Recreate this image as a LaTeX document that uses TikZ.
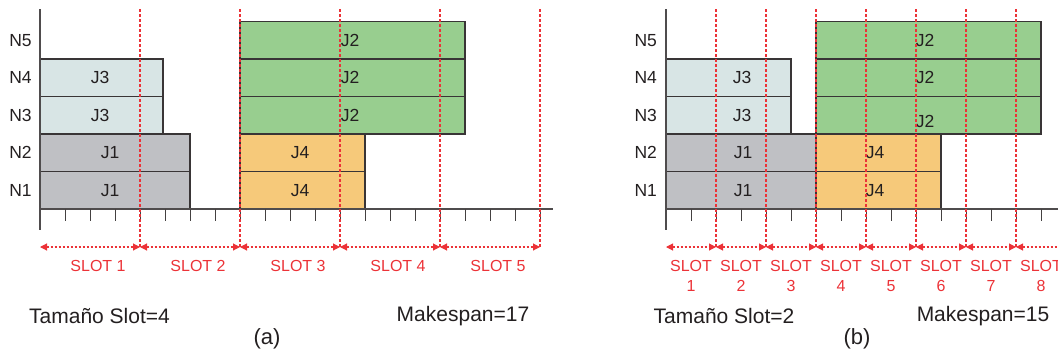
\documentclass[tikz,border=0pt]{standalone}
\usepackage{fontspec}
\setmainfont{Liberation Sans}
\usetikzlibrary{arrows.meta}

\definecolor{jgreen}{HTML}{98CE8F}
\definecolor{jorange}{HTML}{F6C97A}
\definecolor{jgray}{HTML}{BFC0C4}
\definecolor{jblue}{HTML}{D8E5E5}
\definecolor{slotred}{HTML}{EC3237}
\definecolor{ink}{HTML}{231F20}

\tikzset{
  jobbox/.style={draw=ink!90, line width=1.1pt},
  joblabel/.style={inner sep=0pt, text=ink, font=\fontsize{17.5}{17.5}\selectfont},
  rowlabel/.style={inner sep=0pt, text=ink, font=\fontsize{17.5}{17.5}\selectfont},
  axisline/.style={draw=ink!80, line width=1.2pt},
  tickline/.style={draw=ink!85, line width=1pt},
  slotline/.style={draw=slotred, line width=1.1pt, dash pattern=on 3pt off 2pt},
  slotarrow/.style={draw=slotred, line width=1.1pt, dash pattern=on 2pt off 2pt,
    {Triangle[length=7pt,width=7pt]}-{Triangle[length=7pt,width=7pt]}},
  slottext/.style={inner sep=0pt, text=slotred, font=\fontsize{16}{20}\selectfont, align=center},
  infotext/.style={inner sep=0pt, text=ink, font=\fontsize{21}{21}\selectfont},
  captext/.style={inner sep=0pt, text=ink, font=\fontsize{22}{22}\selectfont},
}

\begin{document}
\begin{tikzpicture}[x=1pt,y=-1pt]
\useasboundingbox (0,0) rectangle (1058,354);
\clip (0,0) rectangle (1058,354);

% ---------------- panel (a): slot size 4 ----------------
% job bars
\draw[jobbox, fill=jgray]   (40,171.5) rectangle (190,209);
\draw[jobbox, fill=jgray]   (40,134)   rectangle (190,171.5);
\draw[jobbox, fill=jblue]   (40,96.5)  rectangle (163,134);
\draw[jobbox, fill=jblue]   (40,59)    rectangle (163,96.5);
\draw[jobbox, fill=jgreen]  (240,96.5) rectangle (465,134);
\draw[jobbox, fill=jgreen]  (240,59)   rectangle (465,96.5);
\draw[jobbox, fill=jgreen]  (240,21.5) rectangle (465,59);
\draw[jobbox, fill=jorange] (240,171.5) rectangle (365,209);
\draw[jobbox, fill=jorange] (240,134)  rectangle (365,171.5);

\node[joblabel] (a-j1a) at (110,190.25) {J1};
\node[joblabel] (a-j1b) at (110,152.75) {J1};
\node[joblabel] (a-j3a) at (100,115.25) {J3};
\node[joblabel] (a-j3b) at (100,77.75)  {J3};
\node[joblabel] (a-j2a) at (350,115.25) {J2};
\node[joblabel] (a-j2b) at (350,77.75)  {J2};
\node[joblabel] (a-j2c) at (350,40.25)  {J2};
\node[joblabel] (a-j4a) at (300,190.25) {J4};
\node[joblabel] (a-j4b) at (300,152.75) {J4};

% node labels
\node[rowlabel] (a-n5) at (20.5,40.25)  {N5};
\node[rowlabel] (a-n4) at (20.5,77.75)  {N4};
\node[rowlabel] (a-n3) at (20.5,115.25) {N3};
\node[rowlabel] (a-n2) at (20.5,152.75) {N2};
\node[rowlabel] (a-n1) at (20.5,190.25) {N1};

% axes and ticks
\draw[axisline] (40,9) -- (40,230);
\draw[axisline] (40,209) -- (553,209);
\foreach \k in {1,...,20} {
  \draw[tickline] (40+25*\k,209) -- (40+25*\k,221);
}

% slot boundaries
\foreach \k in {0,...,5} {
  \coordinate (a-s\k) at (40+100*\k,247);
}
\foreach \k in {1,...,5} {
  \draw[slotline] (40+100*\k,9) -- (a-s\k);
}
\foreach \k [evaluate=\k as \p using int(\k-1)] in {1,...,5} {
  \draw[slotarrow] (a-s\p) -- (a-s\k);
  \node[slottext] (a-l\k) at (-2+100*\k,266) {SLOT \k};
}

\node[infotext] (a-size) at (99.5,316) {Tamaño Slot=4};
\node[infotext] (a-mk)   at (463,316)  {Makespan=17};
\node[captext]  (a-cap)  at (267,339)  {(a)};

% ---------------- panel (b): slot size 2 ----------------
\draw[jobbox, fill=jgray]   (666,171.5) rectangle (816,209);
\draw[jobbox, fill=jgray]   (666,134)   rectangle (816,171.5);
\draw[jobbox, fill=jblue]   (666,96.5)  rectangle (791,134);
\draw[jobbox, fill=jblue]   (666,59)    rectangle (791,96.5);
\draw[jobbox, fill=jgreen]  (816,96.5)  rectangle (1041,134);
\draw[jobbox, fill=jgreen]  (816,59)    rectangle (1041,96.5);
\draw[jobbox, fill=jgreen]  (816,21.5)  rectangle (1041,59);
\draw[jobbox, fill=jorange] (816,171.5) rectangle (941,209);
\draw[jobbox, fill=jorange] (816,134)   rectangle (941,171.5);

\node[joblabel] (b-j1a) at (743,190.25) {J1};
\node[joblabel] (b-j1b) at (743,152.75) {J1};
\node[joblabel] (b-j3a) at (742,115.25) {J3};
\node[joblabel] (b-j3b) at (742,77.75)  {J3};
\node[joblabel] (b-j2a) at (925,121.5)  {J2};
\node[joblabel] (b-j2b) at (925,77.75)  {J2};
\node[joblabel] (b-j2c) at (925,40.25)  {J2};
\node[joblabel] (b-j4a) at (875,190.25) {J4};
\node[joblabel] (b-j4b) at (875,152.75) {J4};

\node[rowlabel] (b-n5) at (645.7,40.25)  {N5};
\node[rowlabel] (b-n4) at (645.7,77.75)  {N4};
\node[rowlabel] (b-n3) at (645.7,115.25) {N3};
\node[rowlabel] (b-n2) at (645.7,152.75) {N2};
\node[rowlabel] (b-n1) at (645.7,190.25) {N1};

\draw[axisline] (666,9) -- (666,230);
\draw[axisline] (666,209) -- (1060,209);
\foreach \k in {1,...,16} {
  \draw[tickline] (666+25*\k,209) -- (666+25*\k,221);
}

\foreach \k in {0,...,8} {
  \coordinate (b-s\k) at (666+50*\k,247);
}
\foreach \k in {1,...,8} {
  \draw[slotline] (666+50*\k,9) -- (b-s\k);
}
\foreach \k [evaluate=\k as \p using int(\k-1)] in {1,...,8} {
  \draw[slotarrow] (b-s\p) -- (b-s\k);
  \node[slottext] (b-l\k) at (641+50*\k,276) {SLOT\\\k};
}

\node[infotext] (b-size) at (724,316) {Tamaño Slot=2};
\node[infotext] (b-mk)   at (983,316) {Makespan=15};
\node[captext]  (b-cap)  at (857,339) {(b)};
\end{tikzpicture}
\end{document}
